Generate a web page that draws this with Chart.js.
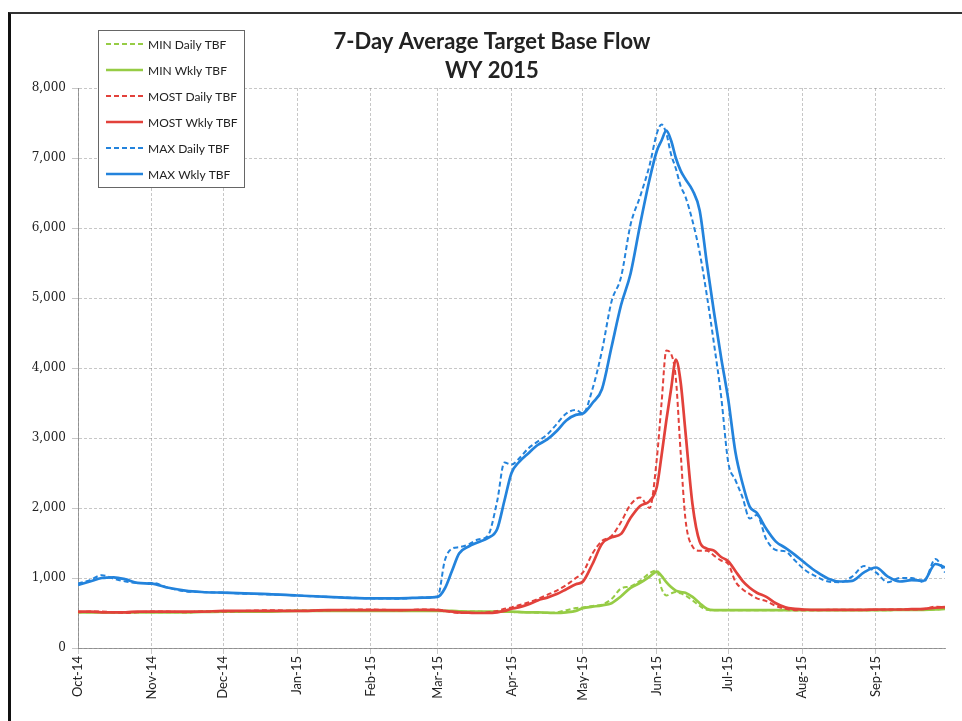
<!DOCTYPE html>
<html>
<head>
<meta charset="utf-8">
<script src="https://cdn.jsdelivr.net/npm/chart.js@4.4.1/dist/chart.umd.min.js"></script>
<style>
html, body { margin: 0; padding: 0; background: #fff; }
#wrap { position: relative; width: 962px; height: 721px; overflow: hidden; }
#grafico { position: absolute; left: 0; top: 0; }
#moldura { position: absolute; left: 8px; top: 12px; right: -4px; bottom: -4px; border-left: 3px solid #111; border-top: 2px solid #333; pointer-events: none; }
</style>
</head>
<body>
<div id="wrap">
    <canvas id="grafico" width="962" height="721"></canvas>
    <div id="moldura"></div>
</div>
<script>
// dias desde 1 Oct 2014
const dias = [0,5,10,15,20,25,31, 38,45,52,61, 70,80,92, 105,123, 135,145,151,
    154,157,160,164,168,172,176,179, 182,185,189,193,197,201,205,209,
    212,216,220,224,228,232,236,240, 243,245,247,249,251,253,255,258,
    261,264,267,270,273,276,279,282, 285,289,293,297,301,305,310,315,
    320,325,330,335,340,345,350,355, 360,364];

const mesDias = [0,31,61,92,123,151,182,212,243,273,304,335];
const mesLabels = ["Oct-14","Nov-14","Dec-14","Jan-15","Feb-15","Mar-15","Apr-15","May-15","Jun-15","Jul-15","Aug-15","Sep-15"];
const yTicks = [0,1000,2000,3000,4000,5000,6000,7000,8000];

const minDiario = [520,510,510,505,510,515,510, 510,510,520,520, 520,525,535, 530,535, 530,530,535,
    530,525,520,520,520,515,520,520, 515,510,510,505,500,510,540,570,
    580,600,620,700,850,880,960,1070, 1110,850,750,780,800,780,750,680,
    600,545,540,540,540,540,540,540, 540,540,540,540,540,540,540,540,
    540,540,540,540,540,545,545,545, 550,560];
const minSemanal = [510,510,510,510,510,510,510, 510,510,515,520, 520,520,530, 530,530, 530,530,530,
    530,530,525,520,520,520,520,520, 520,515,510,510,505,500,510,530,
    570,590,610,640,740,860,930,1020, 1090,1030,940,870,820,800,790,730,
    640,560,540,540,540,540,540,540, 540,540,540,540,540,540,540,540,
    540,540,540,540,540,545,545,545, 550,560];

const mostDiario = [510,520,520,510,500,510,520, 520,510,520,520, 530,540,530, 540,550, 540,550,550,
    530,510,500,500,500,510,530,560, 580,610,650,700,760,820,900,1000,
    1080,1350,1530,1600,1800,2050,2150,2000, 2700,3500,4250,4200,3850,2800,1850,1450,
    1390,1390,1320,1250,1200,950,840,770, 710,670,600,560,540,540,540,545,
    545,545,545,545,550,550,550,555, 590,580];
const mostSemanal = [520,520,510,510,510,520,520, 520,520,520,530, 530,530,530, 540,540, 540,545,540,
    530,520,510,505,500,500,510,530, 560,580,620,680,720,770,840,910,
    950,1200,1490,1580,1630,1860,2030,2100, 2300,2750,3250,3700,4120,3800,3100,2050,
    1520,1420,1390,1300,1240,1100,960,860, 790,730,640,580,560,550,545,545,
    545,545,545,550,550,550,555,560, 575,585];

const maxDiario = [920,970,1040,990,950,930,930, 860,810,800,790, 775,765,750, 730,710, 705,720,735,
    1250,1420,1440,1480,1550,1600,2100,2650, 2620,2700,2850,2950,3050,3200,3350,3400,
    3350,3700,4250,4950,5300,6050,6450,6900, 7350,7480,7350,7050,6850,6600,6450,6100,
    5650,5040,4350,3600,2650,2400,2150,1850, 1900,1550,1400,1380,1250,1120,1020,950,
    940,1020,1170,1080,940,1000,1000,940, 1270,1080];
const maxSemanal = [900,950,1000,1010,980,930,920, 860,820,800,790, 780,770,750, 730,710, 710,720,730,
    850,1100,1350,1450,1510,1570,1700,2100, 2500,2650,2780,2900,2980,3100,3250,3330,
    3350,3500,3700,4300,4900,5350,6050,6700, 7100,7250,7390,7250,7000,6820,6700,6540,
    6250,5500,4800,4150,3550,2800,2350,2020, 1930,1700,1520,1430,1330,1220,1090,990,
    950,960,1080,1150,1020,950,970,960, 1200,1150];

const verde = "#96cc45";
const vermelho = "#e2413b";
const azul = "#2383dc";

function pontos(valores) {
    return dias.map((d, i) => ({ x: d, y: valores[i] }));
}

function serie(label, valores, cor, tracejado, ordem) {
    return {
        label: label,
        data: pontos(valores),
        borderColor: cor,
        backgroundColor: cor,
        borderWidth: tracejado ? 2 : 2.7,
        borderDash: tracejado ? [5, 3] : [],
        pointRadius: 0,
        cubicInterpolationMode: "monotone",
        order: ordem
    };
}

const tituloELegenda = {
    id: "tituloELegenda",
    afterDraw(chart) {
        const ctx = chart.ctx;
        ctx.save();
        ctx.fillStyle = "#222";
        ctx.font = "bold 22px Lato";
        ctx.textAlign = "center";
        ctx.textBaseline = "middle";
        ctx.fillText("7-Day Average Target Base Flow", 492, 42);
        ctx.fillText("WY 2015", 492, 71);

        // legenda
        ctx.fillStyle = "#fff";
        ctx.fillRect(98, 30, 146, 157);
        ctx.strokeStyle = "#666";
        ctx.lineWidth = 1;
        ctx.strokeRect(98.5, 30.5, 146, 157);
        ctx.font = "12px Lato";
        ctx.textAlign = "left";
        chart.data.datasets.forEach((ds, i) => {
            const y = 44 + i * 26;
            ctx.beginPath();
            ctx.strokeStyle = ds.borderColor;
            ctx.lineWidth = ds.borderWidth;
            ctx.setLineDash(ds.borderDash);
            ctx.moveTo(106, y);
            ctx.lineTo(143, y);
            ctx.stroke();
            ctx.setLineDash([]);
            ctx.fillStyle = "#222";
            ctx.fillText(ds.label, 148, y + 1);
        });
        ctx.restore();
    }
};

const grade = {
    color: "rgba(130,130,130,0.45)",
    lineWidth: 1,
    tickLength: 6,
    drawTicks: true
};

new Chart(document.getElementById("grafico"), {
    type: "line",
    data: {
        datasets: [
            serie("MIN Daily TBF", minDiario, verde, true, 3),
            serie("MIN Wkly TBF", minSemanal, verde, false, 3),
            serie("MOST Daily TBF", mostDiario, vermelho, true, 2),
            serie("MOST Wkly TBF", mostSemanal, vermelho, false, 2),
            serie("MAX Daily TBF", maxDiario, azul, true, 1),
            serie("MAX Wkly TBF", maxSemanal, azul, false, 1)
        ]
    },
    options: {
        responsive: false,
        animation: false,
        layout: { padding: { top: 88, right: 17, left: 0, bottom: 0 } },
        plugins: {
            legend: { display: false },
            title: { display: false },
            tooltip: { enabled: false }
        },
        scales: {
            x: {
                type: "linear",
                min: 0,
                max: 364,
                grid: grade,
                border: { display: true, color: "rgba(120,120,120,0.7)", dash: [3, 2] },
                afterBuildTicks: axis => { axis.ticks = mesDias.map(v => ({ value: v })); },
                afterFit: s => { s.height = 73; },
                ticks: {
                    autoSkip: false,
                    maxRotation: 90,
                    minRotation: 90,
                    padding: 2,
                    color: "#222",
                    font: { family: "Lato", size: 13 },
                    callback: v => mesLabels[mesDias.indexOf(v)]
                }
            },
            y: {
                min: 0,
                max: 8000,
                grid: grade,
                border: { display: true, color: "rgba(120,120,120,0.7)", dash: [3, 2] },
                afterBuildTicks: axis => { axis.ticks = yTicks.map(v => ({ value: v })); },
                afterFit: s => { s.width = 78; },
                ticks: {
                    padding: 6,
                    color: "#222",
                    font: { family: "DejaVu Serif", size: 12 },
                    callback: v => v.toLocaleString("en-US")
                }
            }
        }
    },
    plugins: [tituloELegenda]
});
</script>
</body>
</html>
